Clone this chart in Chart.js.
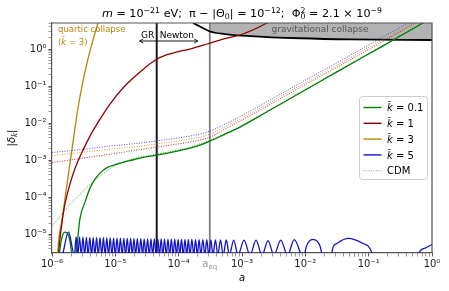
<!DOCTYPE html>
<html>
<head>
<meta charset="utf-8">
<script src="https://cdn.jsdelivr.net/npm/chart.js@4.4.1/dist/chart.umd.min.js"></script>
<style>
  html, body { margin: 0; padding: 0; background: #fff; }
  #wrap { width: 449px; height: 291px; }
</style>
</head>
<body>
<div id="wrap"><canvas id="chart" width="449" height="291"></canvas></div>
<script>
// values: scale factor a and |delta_k|
const aEq = 3.1e-4;   // matter-radiation equality
const aGR = 4.5e-5;   // GR / Newton boundary
const aMin = 1e-6, aMax = 1;
const dMin = 3.1e-6, dMax = 5.04;

const greenA = [1.27e-6, 1.34e-6, 1.44e-6, 1.60e-6, 1.79e-6, 1.92e-6, 2.07e-6, 2.18e-6, 2.35e-6, 2.48e-6,
  2.77e-6, 3.32e-6, 3.98e-6, 4.78e-6, 5.73e-6, 7.39e-6, 1.06e-5, 1.71e-5, 2.45e-5, 4.55e-5, 8.75e-5,
  1.51e-4, 2.17e-4, 3.13e-4, 5.39e-4, 9.30e-4, 2.77e-3, 8.24e-3, 3.53e-2, 0.151, 0.722, 1.0];
const greenD = [1.75e-6, 4.19e-6, 8.30e-6, 1.13e-5, 1.0e-5, 6.47e-6, 2.54e-6, 1.45e-6, 2.54e-6, 5.04e-6,
  2.70e-5, 7.32e-5, 1.75e-4, 3.06e-4, 4.45e-4, 6.27e-4, 7.80e-4, 9.69e-4, 1.13e-3, 1.37e-3, 1.70e-3,
  2.11e-3, 2.54e-3, 3.26e-3, 5.04e-3, 7.80e-3, 2.25e-2, 6.47e-2, 0.27, 1.09, 5.04, 6.88];

const redA = [1.22e-6, 1.27e-6, 1.34e-6, 1.44e-6, 1.60e-6, 1.92e-6, 2.39e-6, 3.09e-6, 3.98e-6, 5.73e-6,
  8.24e-6, 1.32e-5, 2.45e-5, 4.55e-5, 8.14e-5, 1.51e-4, 3.13e-4, 5.80e-4, 9.30e-4, 1.60e-3, 2.48e-3, 3.32e-3];
const redD = [1.75e-6, 3.06e-6, 7.80e-6, 2.11e-5, 6.47e-5, 2.25e-4, 6.89e-4, 1.86e-3, 4.45e-3, 1.28e-2,
  3.26e-2, 8.83e-2, 0.239, 0.537, 0.780, 1.0, 1.45, 1.98, 2.39, 3.47, 5.04, 6.47];

const orangeA = [1.22e-6, 1.24e-6, 1.44e-6, 1.60e-6, 1.79e-6, 2.07e-6, 2.31e-6, 2.57e-6, 2.98e-6, 3.57e-6,
  4.44e-6, 5.32e-6, 5.73e-6];
const orangeD = [1.75e-6, 3.70e-6, 2.39e-5, 8.83e-5, 3.47e-4, 1.98e-3, 7.32e-3, 2.54e-2, 0.1, 0.419,
  1.75, 5.04, 7.32];

// k = 5: zero crossings of the oscillation, the peak of each arch, then the late wide arches
const blueZeroA = [1.47e-6, 2.26e-6, 2.56e-6, 2.90e-6, 3.28e-6, 3.72e-6, 4.21e-6, 4.75e-6, 5.38e-6, 6.10e-6,
  6.89e-6, 7.80e-6, 8.83e-6, 9.98e-6, 1.13e-5, 1.28e-5, 1.45e-5, 1.64e-5, 1.85e-5, 2.09e-5, 2.37e-5,
  2.69e-5, 3.03e-5, 3.44e-5, 3.88e-5, 4.40e-5, 4.98e-5, 5.62e-5, 6.37e-5, 7.21e-5, 8.15e-5, 9.23e-5,
  1.04e-4, 1.18e-4, 1.34e-4, 1.51e-4, 1.73e-4, 1.97e-4, 2.24e-4, 2.59e-4, 2.98e-4, 3.48e-4, 4.15e-4,
  5.05e-4, 6.32e-4, 8.65e-4, 1.34e-3, 2.07e-3, 3.20e-3, 5.23e-3, 8.55e-3];
const bluePeakD = [1.15e-5,
  8.4e-6, 8.3e-6, 8.3e-6, 8.2e-6, 8.2e-6, 8.1e-6, 8.1e-6, 8.0e-6, 8.0e-6, 7.9e-6,
  7.9e-6, 7.8e-6, 7.8e-6, 7.8e-6, 7.7e-6, 7.7e-6, 7.7e-6, 7.6e-6, 7.6e-6, 7.6e-6,
  7.5e-6, 7.5e-6, 7.5e-6, 7.4e-6, 7.4e-6, 7.4e-6, 7.3e-6, 7.3e-6, 7.3e-6, 7.3e-6,
  7.2e-6, 7.2e-6, 7.2e-6, 7.2e-6, 7.2e-6, 7.1e-6, 7.1e-6, 7.1e-6, 7.1e-6, 7.0e-6,
  7.0e-6, 7.0e-6, 7.0e-6, 6.9e-6, 6.9e-6, 6.9e-6, 6.7e-6, 6.9e-6, 7.1e-6];
const blueZeroD = 2.7e-6;  // |delta| ~ 0, just under the axis floor
const blueTailA = [9.19e-3, 1.03e-2, 1.32e-2, 1.71e-2, 1.97e-2, 2.45e-2, 2.74e-2, 3.16e-2, 4.72e-2,
  8.14e-2, 0.105, 0.126, 0.270, 0.560, 0.647, 0.805, 1.0];
const blueTailD = [1.75e-6, 4.46e-6, 7.19e-6, 4.74e-6, 1.75e-6, 1.75e-6, 4.46e-6, 5.61e-6, 7.65e-6,
  5.61e-6, 4.11e-6, 1.75e-6, 3.06e-7, 1.75e-6, 3.47e-6, 4.31e-6, 5.27e-6];

// CDM comparison curves (dotted)
const cdmGreenA = [1.0e-6, 1.34e-6, 1.92e-6, 2.77e-6, 3.98e-6, 5.73e-6, 8.24e-6, 1.19e-5, 1.71e-5, 2.45e-5,
  4.55e-5, 1.51e-4, 3.13e-4, 9.30e-4, 8.24e-3, 0.151, 1.0];
const cdmGreenD = [1.64e-5, 3.06e-5, 6.27e-5, 1.20e-4, 2.18e-4, 3.70e-4, 5.89e-4, 8.30e-4, 1.03e-3, 1.21e-3,
  1.45e-3, 2.25e-3, 3.47e-3, 8.03e-3, 6.68e-2, 1.13, 7.10];
const cdmRedA = [1.0e-6, 2.77e-6, 8.24e-6, 2.45e-5, 7.30e-5, 1.81e-4, 3.13e-4, 5.39e-4, 9.30e-4, 2.77e-3,
  8.24e-3, 3.53e-2, 0.151, 0.540, 0.776];
const cdmRedD = [8.55e-4, 1.10e-3, 1.45e-3, 1.92e-3, 2.54e-3, 3.26e-3, 4.19e-3, 6.88e-3, 1.13e-2, 3.16e-2,
  9.10e-2, 0.358, 1.45, 5.04, 7.10];
const cdmOrangeA = [1.0e-6, 2.77e-6, 8.24e-6, 2.45e-5, 7.30e-5, 1.81e-4, 3.13e-4, 5.39e-4, 9.30e-4, 2.77e-3,
  8.24e-3, 3.53e-2, 0.151, 0.483, 0.647];
const cdmOrangeD = [1.32e-3, 1.60e-3, 1.98e-3, 2.39e-3, 3.06e-3, 3.93e-3, 5.04e-3, 8.03e-3, 1.28e-2, 3.58e-2,
  0.103, 0.406, 1.64, 5.04, 6.67];
const cdmBlueA = [1.0e-6, 2.77e-6, 8.24e-6, 2.45e-5, 7.30e-5, 1.81e-4, 3.13e-4, 5.39e-4, 9.30e-4, 2.77e-3,
  8.24e-3, 3.53e-2, 0.151, 0.418, 0.647];
const cdmBlueD = [1.60e-3, 1.92e-3, 2.39e-3, 2.88e-3, 3.70e-3, 4.74e-3, 6.08e-3, 9.39e-3, 1.50e-2, 4.19e-2,
  0.120, 0.474, 1.92, 5.04, 7.80];

// gravitational collapse threshold
const collapseA = [1.68e-4, 2.17e-4, 3.13e-4, 5.39e-4, 1.34e-3, 8.24e-3, 5.08e-2, 1.0];
const collapseD = [5.04, 4.06, 2.97, 2.54, 2.24, 1.95, 1.81, 1.75];

const legendItems = [
  { k: '0.1', color: '#008000' },
  { k: '1', color: '#8b0000' },
  { k: '3', color: '#b8860b' },
  { k: '5', color: '#1414c8' }
];

const FONT = '"DejaVu Sans"';
const SUP = { '-': '⁻', '0': '⁰', '1': '¹', '2': '²', '3': '³', '4': '⁴', '5': '⁵', '6': '⁶', '7': '⁷', '8': '⁸', '9': '⁹' };

function pts(A, D) {
  return A.map((a, i) => ({ x: a, y: D[i] }));
}

function bluePoints() {
  const out = [];
  blueZeroA.forEach((a, i) => {
    out.push({ x: a, y: blueZeroD });
    if (i < bluePeakD.length) out.push({ x: Math.sqrt(a * blueZeroA[i + 1]), y: bluePeakD[i] });
  });
  return out.concat(pts(blueTailA, blueTailD));
}

function logTicks(lo, hi) {
  const t = [];
  for (let e = -7; e <= 1; e++) {
    for (let d = 1; d <= 9; d++) {
      const v = d * Math.pow(10, e);
      if (v >= lo * 0.9999 && v <= hi * 1.0001) t.push({ value: v, major: d === 1 });
    }
  }
  return t;
}

function powLabel(value, index, ticks) {
  if (!ticks[index].major) return '';
  const e = String(Math.round(Math.log10(value)));
  return '10' + e.split('').map(c => SUP[c]).join('');
}

function drawRich(ctx, runs, x, y, size, align, color) {
  const fnt = (r, s) => (r.it ? 'italic ' : '') + s + 'px ' + FONT;
  const parts = runs.map(r => {
    const s = r.pos ? size * 0.7 : size;
    ctx.font = fnt(r, s);
    let w = ctx.measureText(r.t).width;
    if (r.t2) w = Math.max(w, ctx.measureText(r.t2).width);
    return { r, s, w };
  });
  const total = parts.reduce((acc, p) => acc + p.w, 0);
  let cx = align === 'center' ? x - total / 2 : (align === 'right' ? x - total : x);
  ctx.fillStyle = color;
  ctx.textAlign = 'left';
  ctx.textBaseline = 'alphabetic';
  parts.forEach(p => {
    ctx.font = fnt(p.r, p.s);
    if (p.r.pos === 'sup') ctx.fillText(p.r.t, cx, y - size * 0.38);
    else if (p.r.pos === 'sub') ctx.fillText(p.r.t, cx, y + size * 0.22);
    else if (p.r.pos === 'subsup') {
      ctx.fillText(p.r.t, cx, y + size * 0.22);
      ctx.fillText(p.r.t2, cx, y - size * 0.38);
    } else ctx.fillText(p.r.t, cx, y);
    cx += p.w;
  });
  return total;
}

const overlay = {
  id: 'overlay',
  afterDraw(chart) {
    const ctx = chart.ctx;
    const ca = chart.chartArea;
    const xs = chart.scales.x;
    ctx.save();

    // top / right spines
    ctx.strokeStyle = '#555';
    ctx.lineWidth = 1.2;
    ctx.beginPath();
    ctx.moveTo(ca.left, ca.top);
    ctx.lineTo(ca.right, ca.top);
    ctx.lineTo(ca.right, ca.bottom);
    ctx.stroke();

    // title
    drawRich(ctx, [
      { t: 'm', it: 1 }, { t: ' = 10' }, { t: '−21', pos: 'sup' }, { t: ' eV;  π − |Θ' }, { t: '0', pos: 'sub' },
      { t: '| = 10' }, { t: '−12', pos: 'sup' }, { t: ';  Φ' }, { t: '0', pos: 'subsup', t2: '2' },
      { t: ' = 2.1 × 10' }, { t: '−9', pos: 'sup' }
    ], (ca.left + ca.right) / 2, 17, 11.2, 'center', '#000');

    // axis titles
    drawRich(ctx, [{ t: 'a', it: 1 }], (ca.left + ca.right) / 2, 281, 10, 'center', '#000');
    ctx.save();
    ctx.translate(15, (ca.top + ca.bottom) / 2);
    ctx.rotate(-Math.PI / 2);
    drawRich(ctx, [{ t: '|' }, { t: 'δ', it: 1 }, { t: 'k̃', it: 1, pos: 'sub' }, { t: '|' }], 0, 0, 10, 'center', '#000');
    ctx.restore();

    // a_eq tick label
    const xEq = xs.getPixelForValue(aEq);
    drawRich(ctx, [{ t: 'a' }, { t: 'eq', pos: 'sub' }], xEq, 266.5, 10, 'center', '#999');

    // GR / Newton
    const xGR = xs.getPixelForValue(aGR);
    drawRich(ctx, [{ t: 'GR' }], xGR - 2.5, 38, 9, 'right', '#000');
    drawRich(ctx, [{ t: 'Newton' }], xGR + 3, 38, 9, 'left', '#000');
    const ay = 41, ax0 = xGR - 17, ax1 = xGR + 41;
    ctx.strokeStyle = '#000';
    ctx.lineWidth = 0.9;
    ctx.beginPath();
    ctx.moveTo(ax0, ay); ctx.lineTo(ax1, ay);
    ctx.moveTo(ax0 + 3.5, ay - 2); ctx.lineTo(ax0, ay); ctx.lineTo(ax0 + 3.5, ay + 2);
    ctx.moveTo(ax1 - 3.5, ay - 2); ctx.lineTo(ax1, ay); ctx.lineTo(ax1 - 3.5, ay + 2);
    ctx.stroke();

    // quartic collapse
    drawRich(ctx, [{ t: 'quartic collapse' }], ca.left + 6, 31.5, 8.5, 'left', '#b8860b');
    drawRich(ctx, [{ t: '(' }, { t: 'k̃', it: 1 }, { t: ' = 3)' }], ca.left + 6, 45, 8.5, 'left', '#b8860b');

    // gravitational collapse
    drawRich(ctx, [{ t: 'gravitational collapse' }], 320, 32, 9, 'center', '#555');

    // legend
    const lx = 359.5, ly = 96.5, lw = 68, lh = 83;
    ctx.fillStyle = 'rgba(255,255,255,0.85)';
    ctx.strokeStyle = '#cccccc';
    ctx.lineWidth = 1;
    ctx.beginPath();
    ctx.roundRect(lx, ly, lw, lh, 3);
    ctx.fill();
    ctx.stroke();
    const rows = legendItems.map(it => ({ color: it.color, dash: [], runs: [{ t: 'k̃', it: 1 }, { t: ' = ' + it.k }] }));
    rows.push({ color: '#8c8c8c', dash: [1, 1.5], runs: [{ t: 'CDM' }] });
    rows.forEach((r, i) => {
      const y = 107.5 + i * 15.8;
      ctx.strokeStyle = r.color;
      ctx.lineWidth = r.dash.length ? 0.9 : 1.4;
      ctx.setLineDash(r.dash);
      ctx.beginPath();
      ctx.moveTo(363.5, y);
      ctx.lineTo(381.5, y);
      ctx.stroke();
      ctx.setLineDash([]);
      drawRich(ctx, r.runs, 387, y + 3.6, 10, 'left', '#000');
    });

    ctx.restore();
  }
};

const solid = (data, color) => ({
  data, borderColor: color, borderWidth: 1.3, pointRadius: 0, showLine: true,
  cubicInterpolationMode: 'monotone', fill: false, clip: 0
});
const dotted = (data, color) => ({
  data, borderColor: color, borderWidth: 0.9, borderDash: [1, 1.5], pointRadius: 0, showLine: true,
  cubicInterpolationMode: 'monotone', fill: false, clip: 0
});
const vline = (a, color, width) => ({
  data: [{ x: a, y: dMin }, { x: a, y: dMax }], borderColor: color, borderWidth: width,
  pointRadius: 0, showLine: true, fill: false, clip: 0
});

const collapsePts = pts(collapseA, collapseD);

new Chart(document.getElementById('chart'), {
  type: 'scatter',
  data: {
    datasets: [
      solid(bluePoints(), '#1414c8'),
      solid(pts(greenA, greenD), '#008000'),
      solid(pts(redA, redD), '#8b0000'),
      solid(pts(orangeA, orangeD), '#b8860b'),
      dotted(pts(cdmBlueA, cdmBlueD), '#3a3ae0'),
      dotted(pts(cdmOrangeA, cdmOrangeD), '#c8961e'),
      dotted(pts(cdmRedA, cdmRedD), '#a01818'),
      dotted(pts(cdmGreenA, cdmGreenD), '#1a9a1a'),
      Object.assign(solid(collapsePts, '#000'), { borderWidth: 1.8 }),
      vline(aGR, '#1a1a1a', 2),
      vline(aEq, '#808080', 1.8),
      {
        data: collapsePts.filter(p => p.x >= aEq),
        borderWidth: 0, pointRadius: 0, showLine: true, fill: 'end',
        backgroundColor: '#b3b3b3', cubicInterpolationMode: 'monotone', clip: 0
      }
    ]
  },
  options: {
    responsive: false,
    animation: false,
    devicePixelRatio: 1,
    layout: { padding: { left: 0, right: 17, top: 23, bottom: 0 } },
    plugins: { legend: { display: false }, tooltip: { enabled: false } },
    scales: {
      x: {
        type: 'logarithmic', min: aMin, max: aMax, position: 'bottom',
        afterFit: s => { s.height = 38; },
        afterBuildTicks: s => { s.ticks = logTicks(aMin, aMax); },
        grid: {
          drawOnChartArea: false, drawTicks: true, tickLength: 3.5, tickColor: '#555',
          tickWidth: c => (c.tick && c.tick.major ? 1 : 0.6)
        },
        border: { display: true, color: '#555', width: 1.2 },
        ticks: {
          autoSkip: false, maxRotation: 0, minRotation: 0, padding: 2, color: '#222',
          font: { family: 'DejaVu Sans', size: 10 }, callback: powLabel
        }
      },
      y: {
        type: 'logarithmic', min: dMin, max: dMax, position: 'left',
        afterFit: s => { s.width = 52; },
        afterBuildTicks: s => { s.ticks = logTicks(dMin, dMax); },
        grid: {
          drawOnChartArea: false, drawTicks: true, tickLength: 3.5, tickColor: '#555',
          tickWidth: c => (c.tick && c.tick.major ? 1 : 0.6)
        },
        border: { display: true, color: '#555', width: 1.2 },
        ticks: {
          autoSkip: false, padding: 2, color: '#222',
          font: { family: 'DejaVu Sans', size: 10 }, callback: powLabel
        }
      }
    }
  },
  plugins: [overlay]
});
</script>
</body>
</html>
